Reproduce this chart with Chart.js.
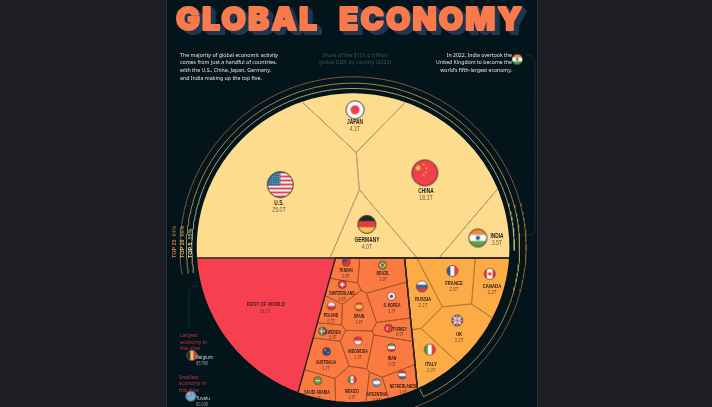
<!DOCTYPE html>
<html>
<head>
<meta charset="utf-8">
<style>
  html, body { margin: 0; padding: 0; background: #1e1f24; }
  canvas { display: block; }
</style>
<script src="https://cdn.jsdelivr.net/npm/chart.js@4/dist/chart.umd.js"></script>
</head>
<body>
<canvas id="economy" width="712" height="407"></canvas>
<script>
// GDP in trillions, grouped the way the picture slices the circle
const top5Names = ["U.S.", "CHINA", "JAPAN", "GERMANY", "INDIA"];
const top5Gdp = [25.0, 18.3, 4.3, 4.0, 3.5];
const top5FlagX = [279, 426, 355, 367, 480];
const top5FlagY = [184, 172, 107, 225, 239];

const next5Names = ["FRANCE", "CANADA", "RUSSIA", "UK", "ITALY"];
const next5Gdp = [2.8, 2.2, 2.1, 3.2, 2.0];
const next5FlagX = [454, 492, 423, 459, 431];
const next5FlagY = [273, 276, 289, 324, 354];

const next15Names = ["TAIWAN", "BRAZIL", "SWITZERLAND", "S. KOREA", "POLAND", "SPAIN", "SWEDEN", "TURKEY",
  "INDONESIA", "IRAN", "AUSTRALIA", "SAUDI ARABIA", "MEXICO", "ARGENTINA", "NETHERLANDS"];
const next15Gdp = [0.8, 1.9, 0.8, 1.7, 0.7, 1.4, 0.6, 0.9, 1.3, 2.0, 1.7, 1.1, 1.4, 0.6, 1.0];
const next15FlagX = [346, 383, 342, 392, 331, 359, 322, 389, 358, 392, 326, 317, 352, 377, 403];
const next15FlagY = [264, 267, 287, 299, 309, 310, 335, 332, 345, 352, 356, 386, 385, 388, 380];

const restGdp = 16.2;
const sideLabelled = ["INDIA", "SWEDEN", "TURKEY"];

const sliceColors = ["#fedc8e", "#fcab46", "#fb7a41"];
const sliceLines = ["#b3a272", "#b67f30", "#a8562c"];
const restColor = "#f6404f";

// the circle, in picture units
const CX = 353, CY = 249, R = 159;

function area(p) {
  let s = 0;
  for (let i = 0; i < p.length; i++) {
    const a = p[i], b = p[(i + 1) % p.length];
    s += a.x * b.y - b.x * a.y;
  }
  return Math.abs(s) / 2;
}

// keep the part of polygon p where nx*x + ny*y <= c
function clip(p, nx, ny, c) {
  const out = [];
  for (let i = 0; i < p.length; i++) {
    const a = p[i], b = p[(i + 1) % p.length];
    const da = nx * a.x + ny * a.y - c, db = nx * b.x + ny * b.y - c;
    if (da <= 0) out.push(a);
    if ((da < 0 && db > 0) || (da > 0 && db < 0)) {
      const t = da / (da - db);
      out.push({ x: a.x + (b.x - a.x) * t, y: a.y + (b.y - a.y) * t });
    }
  }
  return out;
}

// cut off the piece on the +n side whose area is target, only the tilt of the cut is given
function cutOff(p, nx, ny, target) {
  const len = Math.hypot(nx, ny);
  nx /= len; ny /= len;
  const vals = p.map(q => nx * q.x + ny * q.y);
  let lo = Math.min(...vals), hi = Math.max(...vals);
  for (let i = 0; i < 50; i++) {
    const mid = (lo + hi) / 2;
    if (area(clip(p, -nx, -ny, -mid)) > target) lo = mid; else hi = mid;
  }
  return [clip(p, -nx, -ny, -lo), clip(p, nx, ny, lo)];
}

// weighted voronoi: weights move until every cell area follows its gdp
function powerCells(poly, sites, gdp) {
  const total = gdp.reduce((a, b) => a + b, 0), polyArea = area(poly);
  const w = sites.map(() => 0);
  const build = () => sites.map((s, i) => {
    let cell = poly;
    sites.forEach((o, j) => {
      if (j === i || !cell.length) return;
      const c = o.x * o.x + o.y * o.y - w[j] - s.x * s.x - s.y * s.y + w[i];
      cell = clip(cell, 2 * (o.x - s.x), 2 * (o.y - s.y), c);
    });
    return cell;
  });
  for (let k = 0; k < 400; k++) {
    build().forEach((cell, i) => {
      w[i] += 0.25 * (gdp[i] / total * polyArea - (cell.length ? area(cell) : 0));
    });
  }
  return build();
}

function closed(p) {
  return p.concat([p[0]]);
}

function flagRadius(group, gdp) {
  if (group === 0) return gdp > 10 ? 13 : 9;
  return group === 1 ? 5.5 : 4;
}

// simple painted flags, each one is handed to the scatter points as pointStyle
function stripesH(c, r, cols, sizes) {
  const sum = (sizes || cols.map(() => 1)).reduce((a, b) => a + b, 0);
  let y = -r;
  cols.forEach((col, i) => {
    const h = 2 * r * (sizes ? sizes[i] : 1) / sum;
    c.fillStyle = col; c.fillRect(-r, y, 2 * r, h + 0.3); y += h;
  });
}
function stripesV(c, r, cols) {
  cols.forEach((col, i) => {
    c.fillStyle = col; c.fillRect(-r + i * 2 * r / cols.length, -r, 2 * r / cols.length + 0.3, 2 * r);
  });
}
function disc(c, x, y, r, col) {
  c.fillStyle = col; c.beginPath(); c.arc(x, y, r, 0, Math.PI * 2); c.fill();
}
function unionCross(c, r, x0, y0, w, h) {
  c.fillStyle = "#2a4f8f"; c.fillRect(x0, y0, w, h);
  c.strokeStyle = "#fff"; c.lineWidth = h * 0.16;
  c.beginPath(); c.moveTo(x0, y0); c.lineTo(x0 + w, y0 + h); c.moveTo(x0 + w, y0); c.lineTo(x0, y0 + h);
  c.moveTo(x0 + w / 2, y0); c.lineTo(x0 + w / 2, y0 + h); c.moveTo(x0, y0 + h / 2); c.lineTo(x0 + w, y0 + h / 2); c.stroke();
  c.strokeStyle = "#d8293c"; c.lineWidth = h * 0.09;
  c.beginPath(); c.moveTo(x0 + w / 2, y0); c.lineTo(x0 + w / 2, y0 + h); c.moveTo(x0, y0 + h / 2); c.lineTo(x0 + w, y0 + h / 2); c.stroke();
}
const flagPaint = {
  "U.S.": (c, r) => {
    const cols = [];
    for (let i = 0; i < 13; i++) cols.push(i % 2 ? "#fff" : "#e5394a");
    stripesH(c, r, cols);
    c.fillStyle = "#2f6d97"; c.fillRect(-r, -r, r, r * 1.08);
    c.fillStyle = "#9fc4d8";
    for (let i = 0; i < 5; i++) for (let j = 0; j < 5; j++) c.fillRect(-r + 2 + i * r / 5.4, -r + 2 + j * r / 5.4, 1, 1);
  },
  CHINA: (c, r) => {
    c.fillStyle = "#f0404b"; c.fillRect(-r, -r, 2 * r, 2 * r);
    disc(c, -r * 0.52, -r * 0.38, r * 0.18, "#f7c948");
    [[-0.1, -0.65], [0.1, -0.35], [0.1, -0.05], [-0.1, 0.15]].forEach(s => disc(c, s[0] * r, s[1] * r, r * 0.07, "#f7c948"));
  },
  JAPAN: (c, r) => { c.fillStyle = "#fff"; c.fillRect(-r, -r, 2 * r, 2 * r); disc(c, 0, 0, r * 0.5, "#ef3f4e"); },
  GERMANY: (c, r) => stripesH(c, r, ["#23232b", "#e43b40", "#f5c64a"]),
  INDIA: (c, r) => { stripesH(c, r, ["#f58a3c", "#fff", "#5f9e4b"]); disc(c, 0, 0, r * 0.24, "#2b5f9e"); },
  FRANCE: (c, r) => stripesV(c, r, ["#2f5f9e", "#fff", "#ef4050"]),
  CANADA: (c, r) => {
    stripesV(c, r, ["#e6343f", "#fff", "#fff", "#e6343f"]);
    disc(c, 0, 0, r * 0.32, "#e6343f");
  },
  RUSSIA: (c, r) => stripesH(c, r, ["#fff", "#3a62a8", "#e23a45"]),
  UK: (c, r) => unionCross(c, r, -r, -r, 2 * r, 2 * r),
  ITALY: (c, r) => stripesV(c, r, ["#4f9a55", "#fff", "#ef4050"]),
  TAIWAN: (c, r) => {
    c.fillStyle = "#e5343f"; c.fillRect(-r, -r, 2 * r, 2 * r);
    c.fillStyle = "#2a4f9a"; c.fillRect(-r, -r, r, r);
  },
  BRAZIL: (c, r) => {
    c.fillStyle = "#5f9c45"; c.fillRect(-r, -r, 2 * r, 2 * r);
    c.fillStyle = "#f2cf45"; c.beginPath(); c.moveTo(-r, 0); c.lineTo(0, -r * 0.7); c.lineTo(r, 0); c.lineTo(0, r * 0.7); c.fill();
    disc(c, 0, 0, r * 0.35, "#2f5f9e");
  },
  SWITZERLAND: (c, r) => {
    c.fillStyle = "#e5343f"; c.fillRect(-r, -r, 2 * r, 2 * r);
    c.fillStyle = "#fff"; c.fillRect(-r * 0.55, -r * 0.18, r * 1.1, r * 0.36); c.fillRect(-r * 0.18, -r * 0.55, r * 0.36, r * 1.1);
  },
  "S. KOREA": (c, r) => {
    c.fillStyle = "#fff"; c.fillRect(-r, -r, 2 * r, 2 * r);
    disc(c, 0, 0, r * 0.45, "#e5343f");
    c.fillStyle = "#2a4f9a"; c.beginPath(); c.arc(0, 0, r * 0.45, 0, Math.PI); c.fill();
  },
  POLAND: (c, r) => stripesH(c, r, ["#fff", "#e5343f"]),
  SPAIN: (c, r) => stripesH(c, r, ["#dd3a3a", "#f5c64a", "#dd3a3a"], [1, 2, 1]),
  SWEDEN: (c, r) => {
    c.fillStyle = "#2f6da8"; c.fillRect(-r, -r, 2 * r, 2 * r);
    c.fillStyle = "#f5c64a"; c.fillRect(-r, -r * 0.18, 2 * r, r * 0.36); c.fillRect(-r * 0.45, -r, r * 0.36, 2 * r);
  },
  TURKEY: (c, r) => {
    c.fillStyle = "#e5343f"; c.fillRect(-r, -r, 2 * r, 2 * r);
    disc(c, -r * 0.1, 0, r * 0.45, "#fff"); disc(c, r * 0.04, 0, r * 0.35, "#e5343f");
  },
  INDONESIA: (c, r) => stripesH(c, r, ["#e5343f", "#fff"]),
  IRAN: (c, r) => stripesH(c, r, ["#5f9e4b", "#fff", "#e5343f"]),
  AUSTRALIA: (c, r) => {
    c.fillStyle = "#2a4f8f"; c.fillRect(-r, -r, 2 * r, 2 * r);
    disc(c, -r * 0.4, -r * 0.4, r * 0.28, "#e86a6a");
    disc(c, r * 0.4, r * 0.2, r * 0.14, "#fff");
  },
  "SAUDI ARABIA": (c, r) => {
    c.fillStyle = "#6f9f45"; c.fillRect(-r, -r, 2 * r, 2 * r);
    c.fillStyle = "#e9efd8"; c.fillRect(-r * 0.55, -r * 0.1, r * 1.1, r * 0.25);
  },
  MEXICO: (c, r) => { stripesV(c, r, ["#4f9a55", "#fff", "#e5343f"]); disc(c, 0, 0, r * 0.2, "#8a6a3a"); },
  ARGENTINA: (c, r) => stripesH(c, r, ["#6aaede", "#fff", "#6aaede"]),
  NETHERLANDS: (c, r) => stripesH(c, r, ["#e5343f", "#fff", "#3a62a8"]),
  BELGIUM: (c, r) => stripesV(c, r, ["#23232b", "#f5c64a", "#e5343f"]),
  TUVALU: (c, r) => {
    c.fillStyle = "#6aaede"; c.fillRect(-r, -r, 2 * r, 2 * r);
    unionCross(c, r, -r, -r, r, r);
    disc(c, r * 0.45, r * 0.3, r * 0.12, "#f5c64a");
  }
};

function makeFlag(name, r, ring) {
  const pad = 1.5;
  const cv = document.createElement("canvas");
  cv.width = cv.height = Math.ceil(2 * (r + pad));
  const c = cv.getContext("2d");
  c.translate(cv.width / 2, cv.height / 2);
  c.save();
  c.beginPath(); c.arc(0, 0, r, 0, Math.PI * 2); c.clip();
  flagPaint[name](c, r);
  c.restore();
  c.strokeStyle = ring; c.lineWidth = r > 6 ? 1 : 0.7;
  c.beginPath(); c.arc(0, 0, r, 0, Math.PI * 2); c.stroke();
  return cv;
}

// slices of the circle, sized from the data
const circle = [];
for (let i = 0; i < 360; i++) {
  const a = i * Math.PI / 180;
  circle.push({ x: CX + R * Math.cos(a), y: CY + R * Math.sin(a) });
}
const sum = a => a.reduce((p, q) => p + q, 0);
const worldGdp = sum(top5Gdp) + sum(next5Gdp) + sum(next15Gdp) + restGdp;
const circleArea = area(circle);
const [topSlice, bottom] = cutOff(circle, 0, -1, sum(top5Gdp) / worldGdp * circleArea);
const [restSlice, bottom2] = cutOff(bottom, -138, -38, restGdp / worldGdp * circleArea);
const [next5Slice, next15Slice] = cutOff(bottom2, 134, -13, sum(next5Gdp) / worldGdp * circleArea);

const slices = [
  { poly: topSlice, names: top5Names, gdp: top5Gdp, fx: top5FlagX, fy: top5FlagY },
  { poly: next5Slice, names: next5Names, gdp: next5Gdp, fx: next5FlagX, fy: next5FlagY },
  { poly: next15Slice, names: next15Names, gdp: next15Gdp, fx: next15FlagX, fy: next15FlagY }
];

const isArcEdge = ctx => {
  const mx = (ctx.p0.parsed.x + ctx.p1.parsed.x) / 2 - CX, my = (ctx.p0.parsed.y + ctx.p1.parsed.y) / 2 - CY;
  return Math.hypot(mx, my) > R - 0.5;
};
const noArcEdge = { borderColor: ctx => isArcEdge(ctx) ? "rgba(0,0,0,0)" : undefined };

const flagPoints = [], flagStyles = [], cellSets = [], labels = [];
slices.forEach((s, g) => {
  const sites = s.names.map((n, i) => {
    const r = flagRadius(g, s.gdp[i]);
    return sideLabelled.includes(n)
      ? { x: s.fx[i] + r + 3, y: s.fy[i] }
      : { x: s.fx[i], y: s.fy[i] + r * 0.9 };
  });
  powerCells(s.poly, sites, s.gdp).forEach((cell, i) => {
    cellSets.push({
      label: s.names[i], data: closed(cell), showLine: true, cellFill: sliceColors[g],
      borderColor: sliceLines[g], borderWidth: 0.9,
      pointRadius: 0, segment: noArcEdge, clip: false
    });
    const r = flagRadius(g, s.gdp[i]);
    flagPoints.push({ x: s.fx[i], y: s.fy[i] });
    flagStyles.push(makeFlag(s.names[i], r, g === 0 ? "#3a3a36" : "#5a3a25"));
    labels.push({ name: s.names[i], gdp: s.gdp[i], x: s.fx[i], y: s.fy[i], r: r, group: g });
  });
});

function ringPoints(r, fromDeg, toDeg) {
  const pts = [];
  for (let d = fromDeg; d <= toDeg; d += 1) {
    const a = d * Math.PI / 180;
    pts.push({ x: CX + r * Math.cos(a), y: CY + r * Math.sin(a) });
  }
  return pts;
}

const outline = (data, width) => ({
  data: closed(data), showLine: true, fill: false, borderColor: "#2b2222", borderWidth: width,
  pointRadius: 0, segment: noArcEdge, clip: false
});
const ring = (data, col) => ({
  data: data, showLine: true, fill: false, borderColor: col, borderWidth: 0.9, pointRadius: 0, clip: false
});

const pageText = {
  id: "pageText",
  beforeDraw(chart) {
    const c = chart.ctx;
    c.fillStyle = "#1e1f24"; c.fillRect(0, 0, 712, 407);
    c.fillStyle = "#34353b"; c.fillRect(166, 0, 372, 407);
    c.fillStyle = "#03151a"; c.fillRect(167, 0, 370, 407);
  },
  beforeDatasetsDraw(chart) {
    const c = chart.ctx;
    // leader lines
    c.save();
    c.strokeStyle = "#2f4a4a"; c.lineWidth = 0.8; c.setLineDash([1.5, 1]);
    c.beginPath(); c.moveTo(526, 55); c.quadraticCurveTo(535, 55, 535, 64); c.lineTo(535, 229);
    c.quadraticCurveTo(535, 235, 528, 235); c.lineTo(517, 235); c.stroke();
    c.beginPath(); c.moveTo(189, 328); c.lineTo(189, 293); c.quadraticCurveTo(189, 286, 197, 286); c.stroke();
    c.setLineDash([]);
    // cell fills, taken from the points the scales placed
    chart.data.datasets.forEach((d, i) => {
      if (!d.cellFill) return;
      const pts = chart.getDatasetMeta(i).data;
      c.fillStyle = d.cellFill;
      c.beginPath();
      pts.forEach((p, k) => k ? c.lineTo(p.x, p.y) : c.moveTo(p.x, p.y));
      c.closePath();
      c.fill();
    });
    c.restore();
  },
  afterDatasetsDraw(chart) {
    const c = chart.ctx;
    c.save();
    c.textBaseline = "middle";

    // title with its extruded shadow
    const word = (t, x, w) => {
      c.font = "900 32px Inter, 'DejaVu Sans'";
      c.letterSpacing = "2.2px";
      c.textBaseline = "alphabetic";
      c.textAlign = "left";
      c.lineJoin = "round";
      for (let k = 5; k >= 1; k--) {
        c.fillStyle = "#1e3854"; c.strokeStyle = "#1e3854"; c.lineWidth = 2;
        c.strokeText(t, x + k, 29.5 + k * 0.8, w); c.fillText(t, x + k, 29.5 + k * 0.8, w);
      }
      c.fillStyle = "#fb7a4b"; c.strokeStyle = "#fb7a4b"; c.lineWidth = 2;
      c.strokeText(t, x, 29.5, w); c.fillText(t, x, 29.5, w);
      c.textBaseline = "middle";
      c.letterSpacing = "0px";
    };
    word("GLOBAL", 176, 143);
    word("ECONOMY", 339, 185);

    // w is the width of the longest line, the other lines keep the same squeeze
    const lines = (arr, x, ys, align, col, font, w) => {
      c.textAlign = align; c.fillStyle = col; c.font = font;
      const ratio = w / Math.max(...arr.map(t => c.measureText(t).width));
      arr.forEach((t, i) => c.fillText(t, x, ys[i], c.measureText(t).width * ratio));
    };
    const body = "6px 'Noto Sans'";
    lines(["The majority of global economic activity", "comes from just a handful of countries,",
      "with the U.S., China, Japan, Germany,", "and India making up the top five."],
      180, [55, 62.5, 70, 78], "left", "#e6e6df", body, 98);
    lines(["Share of the $101.6 trillion", "global GDP, by country (2022)"],
      355, [55, 62], "center", "#3c5557", body, 72);
    lines(["In 2022, India overtook the", "United Kingdom to become the", "world's fifth-largest economy."],
      512, [55, 62.5, 70], "right", "#e6e6df", body, 76);
    lines(["Largest", "economy in", "this slice"], 180, [335, 342, 348], "left", "#c5334a", body, 27);
    lines(["Smallest", "economy in", "this slice"], 179, [377, 383.5, 390], "left", "#c5334a", body, 27);
    lines(["Belgium"], 196, [358], "left", "#d8d8d0", "5px 'Noto Sans'", 17);
    lines(["$579B"], 196, [363.5], "left", "#9a9a92", "4.5px 'Noto Sans'", 12);
    lines(["Tuvalu"], 196, [399], "left", "#d8d8d0", "5px 'Noto Sans'", 14);
    lines(["$0.06B"], 196, [405], "left", "#9a9a92", "4.5px 'Noto Sans'", 12);

    // country names and values, squeezed like a condensed face
    const squeeze = (t, x, y) => c.fillText(t, x, y, c.measureText(t).width * 0.76);
    const sans = "'Liberation Sans'";
    labels.forEach(l => {
      const big = l.group === 0;
      const side = sideLabelled.includes(l.name);
      const x = side ? l.x + (big ? 17 : 11) : l.x;
      const y = side ? l.y - (big ? 3 : 2.5) : l.y + l.r + (big ? 6 : l.group === 1 ? 4.5 : 3);
      const dy = big ? 7.5 : l.group === 1 ? 6.5 : 5.6;
      c.textAlign = "center";
      c.fillStyle = "#241e1c";
      c.font = "bold " + (big ? 6.4 : l.group === 1 ? 5.6 : 4.6) + "px " + sans;
      squeeze(l.name, x, y);
      c.fillStyle = big ? "#6b6044" : l.group === 1 ? "#6e4e26" : "#66361c";
      c.font = (big ? 7 : l.group === 1 ? 6 : 4.8) + "px " + sans;
      squeeze(l.gdp.toFixed(1) + "T", x, y + dy);
    });
    c.textAlign = "center";
    c.fillStyle = "#4a1823";
    c.font = "bold 6px " + sans;
    squeeze("REST OF WORLD", 266, 304);
    c.fillStyle = "#8a2a38";
    c.font = "5.8px " + sans;
    squeeze(restGdp.toFixed(1) + "T", 265, 311);

    // rotated ring labels
    const ringLabel = (x, name, pct, col, dim) => {
      c.save();
      c.translate(x, 258);
      c.rotate(-Math.PI / 2);
      c.textAlign = "left";
      c.font = "bold 5.4px " + sans;
      c.fillStyle = col;
      c.fillText(name, 0, 0);
      const w = c.measureText(name + " ").width;
      c.fillStyle = dim;
      c.fillText(pct, w + 1.5, 0);
      c.restore();
    };
    ringLabel(175, "TOP 25", "84%", "#d9773f", "#8f5a3a");
    ringLabel(183, "TOP 10", "66%", "#e7b154", "#a08a50");
    ringLabel(191, "TOP 5", "55%", "#f3dc92", "#a8a07a");
    c.restore();
  }
};

new Chart(document.getElementById("economy"), {
  type: "scatter",
  data: {
    datasets: [
      { label: "flags", data: flagPoints, pointStyle: flagStyles, pointRadius: 5, clip: false },
      {
        label: "note flags",
        data: [{ x: 520, y: 55 }, { x: 189, y: 360 }, { x: 188, y: 402 }],
        pointStyle: [makeFlag("INDIA", 5.5, "#03151a"), makeFlag("BELGIUM", 5, "#888"), makeFlag("TUVALU", 5, "#888")],
        pointRadius: 5, clip: false
      },
      ring(ringPoints(164, 171, 361), "#bdb283"),
      ring(ringPoints(169.5, 171, 425).concat([{ x: 421, y: 395 }]), "#b8914e"),
      ring(ringPoints(176, 171, 440), "#8f5a3c"),
      outline(topSlice, 1.4),
      outline(next5Slice, 1.4),
      outline(next15Slice, 1.4),
      ...cellSets,
      {
        label: "REST OF WORLD", data: closed(restSlice), showLine: true, cellFill: restColor,
        borderWidth: 0, pointRadius: 0, clip: false
      }
    ]
  },
  options: {
    responsive: false,
    animation: false,
    events: [],
    layout: { padding: 0 },
    plugins: { legend: { display: false }, tooltip: { enabled: false }, title: { display: false } },
    scales: {
      x: { type: "linear", display: false, min: 0, max: 712 },
      y: { type: "linear", display: false, min: 0, max: 407, reverse: true }
    }
  },
  plugins: [pageText]
});
</script>
</body>
</html>
